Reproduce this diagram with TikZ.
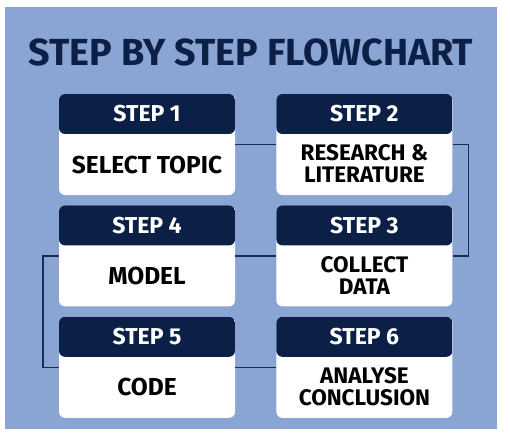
\documentclass[tikz,border=0pt]{standalone}
\usepackage{fontspec}
\setmainfont{Fira Sans}
\usetikzlibrary{positioning}
\definecolor{FlowBack}{HTML}{8AA5D3}
\definecolor{FlowNavy}{HTML}{0B1F47}
\definecolor{FlowLine}{HTML}{1B2B52}
\tikzset{
  title/.style={text=FlowNavy, inner sep=0pt,
    font=\bfseries\fontsize{37.7}{37.7}\selectfont},
  card/.style={rectangle, rounded corners=6pt, fill=white, inner sep=0pt,
    minimum width=176pt, minimum height=101pt,
    path picture={\fill[FlowNavy] (path picture bounding box.north west)
      rectangle ([yshift=-40pt]path picture bounding box.north east);}},
  head/.style={text=white, inner sep=0pt,
    font=\bfseries\fontsize{23}{23}\selectfont},
  body/.style={text=black, align=center, inner sep=0pt,
    font=\bfseries\fontsize{24.5}{24.5}\selectfont},
  bodytwo/.style={body, font=\bfseries\fontsize{22.5}{22}\selectfont},
  link/.style={draw=FlowLine, line width=1.5pt}
}
\begin{document}
\begin{tikzpicture}[x=1pt, y=-1pt, node distance=10pt and 41pt]

\useasboundingbox (0,0) rectangle (510,438);
\fill[FlowBack] (5,7) rectangle (497,429);

\node[title] (title) at (251,52) {STEP BY STEP FLOWCHART};

% cards
\node[card] (s1) at (147,144.5) {};
\node[card, right=of s1] (s2) {};
\node[card, below=of s2] (s3) {};
\node[card, below=of s1] (s4) {};
\node[card, below=of s4] (s5) {};
\node[card, right=of s5] (s6) {};

% headers
\node[head] (h1) at ([yshift=-20pt]s1.north) {STEP 1};
\node[head] (h2) at ([yshift=-20pt]s2.north) {STEP 2};
\node[head] (h3) at ([yshift=-20pt]s3.north) {STEP 3};
\node[head] (h4) at ([yshift=-20pt]s4.north) {STEP 4};
\node[head] (h5) at ([yshift=-20pt]s5.north) {STEP 5};
\node[head] (h6) at ([yshift=-20pt]s6.north) {STEP 6};

% texts
\node[body]    (t1) at ([yshift=30.5pt]s1.south) {SELECT TOPIC};
\node[bodytwo] (t2) at ([yshift=31pt]s2.south) {RESEARCH \&\\LITERATURE};
\node[bodytwo] (t3) at ([yshift=31pt]s3.south) {COLLECT\\DATA};
\node[body]    (t4) at ([yshift=30.5pt]s4.south) {MODEL};
\node[body]    (t5) at ([yshift=30.5pt]s5.south) {CODE};
\node[bodytwo] (t6) at ([yshift=31pt]s6.south) {ANALYSE\\CONCLUSION};

% connectors
\draw[link] (s1) -- (s2);
\draw[link] (s2.east) -- ++(16,0) |- (s3.east);
\draw[link] (s3) -- (s4);
\draw[link] (s4.west) -- ++(-16,0) |- (s5.west);
\draw[link] (s5) -- (s6);

\end{tikzpicture}
\end{document}
